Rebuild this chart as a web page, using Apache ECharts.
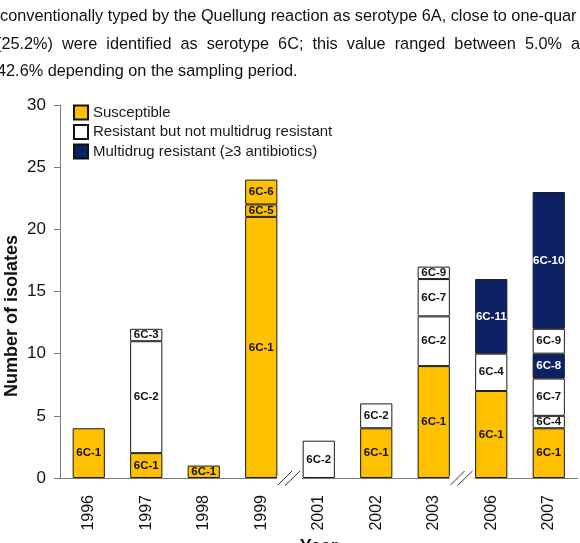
<!DOCTYPE html>
<html>
<head>
<meta charset="utf-8">
<script src="https://cdn.jsdelivr.net/npm/echarts@6.0.0/dist/echarts.min.js"></script>
<style>
  html, body { margin: 0; padding: 0; background: #fff; }
  #chart { width: 580px; height: 543px; }
</style>
</head>
<body>
<div id="chart"></div>
<script>
// paragraph text above the figure (cut off at the page edges in the original)
const textLines = [
  'conventionally typed by the Quellung reaction as serotype 6A, close to one-quar',
  '(25.2%) were identified as serotype 6C; this value ranged between 5.0% a',
  '42.6% depending on the sampling period.'
]

const years = ['1996', '1997', '1998', '1999', '2001', '2002', '2003', '2006', '2007']

// segments per year, bottom to top: [clone, group, isolates]
// S = susceptible, R = resistant but not MDR, M = multidrug resistant
const seg1996 = [['6C-1', 'S', 4]]
const seg1997 = [['6C-1', 'S', 2], ['6C-2', 'R', 9], ['6C-3', 'R', 1]]
const seg1998 = [['6C-1', 'S', 1]]
const seg1999 = [['6C-1', 'S', 21], ['6C-5', 'S', 1], ['6C-6', 'S', 2]]
const seg2001 = [['6C-2', 'R', 3]]
const seg2002 = [['6C-1', 'S', 4], ['6C-2', 'R', 2]]
const seg2003 = [['6C-1', 'S', 9], ['6C-2', 'R', 4], ['6C-7', 'R', 3], ['6C-9', 'R', 1]]
const seg2006 = [['6C-1', 'S', 7], ['6C-4', 'R', 3], ['6C-11', 'M', 6]]
const seg2007 = [['6C-1', 'S', 4], ['6C-4', 'R', 1], ['6C-7', 'R', 3], ['6C-8', 'M', 2], ['6C-9', 'R', 2], ['6C-10', 'M', 11]]
const segmentsByYear = [seg1996, seg1997, seg1998, seg1999, seg2001, seg2002, seg2003, seg2006, seg2007]

const groupKeys = ['S', 'R', 'M']
const groupNames = ['Susceptible', 'Resistant but not multidrug resistant', 'Multidrug resistant (≥3 antibiotics)']

// gaps in the time line come after these category indexes
const breakAfter = [3, 6]

const yTicks = [0, 5, 10, 15, 20, 25, 30]

const FONT = '"Liberation Sans", Arial, sans-serif'
const colors = { S: '#FFC000', R: '#FFFFFF', M: '#0B2163' }
const labelColors = { S: '#111', R: '#111', M: '#fff' }
const axisColor = '#7a7a7a'

let chart = echarts.init(document.getElementById('chart'))

// bar layers: layer i holds the i-th segment of each year
let maxLayers = Math.max(...segmentsByYear.map(s => s.length))
let series = []
for (let i = 0; i < maxLayers; i++) {
  series.push({
    name: 'layer' + i,
    type: 'bar',
    stack: 'total',
    barWidth: '56%',
    itemStyle: { borderColor: '#1a1a1a', borderWidth: 1 },
    label: {
      show: true,
      position: 'inside',
      fontFamily: FONT,
      fontSize: 11.5,
      fontWeight: 'bold',
      formatter: p => p.data.clone
    },
    data: segmentsByYear.map(segs => {
      let s = segs[i]
      if (!s) return '-'
      return {
        value: s[2],
        clone: s[0],
        itemStyle: { color: colors[s[1]] },
        label: { color: labelColors[s[1]] }
      }
    })
  })
}
// empty series only to feed the legend
groupKeys.forEach((k, i) => {
  series.push({
    name: groupNames[i],
    type: 'bar',
    stack: 'total',
    data: [],
    itemStyle: { color: colors[k], borderColor: '#111', borderWidth: 1.5 }
  })
})

chart.setOption({
  animation: false,
  textStyle: { fontFamily: FONT },
  grid: { left: 60, right: 2.5, top: 105, bottom: 65, outerBoundsMode: 'none' },
  legend: {
    data: groupNames,
    orient: 'vertical',
    left: 73,
    top: 104.5,
    icon: 'rect',
    itemWidth: 14,
    itemHeight: 14,
    itemGap: 3.5,
    padding: 0,
    textStyle: { fontFamily: FONT, fontSize: 15, color: '#1a1a1a' }
  },
  xAxis: {
    type: 'category',
    data: years,
    name: 'Year',
    nameLocation: 'middle',
    nameGap: 60,
    nameTextStyle: { fontFamily: FONT, fontSize: 18, fontWeight: 'bold', color: '#111' },
    axisLine: { lineStyle: { color: axisColor, width: 1 } },
    axisTick: {
      length: 5,
      lineStyle: { color: axisColor },
      interval: (idx) => !breakAfter.includes(idx - 1)
    },
    axisLabel: { rotate: 90, fontSize: 16, color: '#111', margin: 17, fontFamily: FONT }
  },
  yAxis: {
    type: 'value',
    min: yTicks[0],
    max: yTicks[yTicks.length - 1],
    interval: yTicks[1] - yTicks[0],
    axisLine: { show: true, lineStyle: { color: axisColor, width: 1 } },
    axisTick: { show: true, length: 6, lineStyle: { color: axisColor } },
    splitLine: { show: false },
    axisLabel: { fontSize: 17, color: '#111', margin: 14, fontFamily: FONT }
  },
  series: series
})

// paragraph text + axis breaks + y title as graphics
let graphics = []

let ctx = document.createElement('canvas').getContext('2d')
let textFont = '16.3px "Liberation Sans"'
ctx.font = textFont
let lineY = [17, 45, 72]
graphics.push({
  type: 'text', x: 0, y: lineY[0],
  style: { text: textLines[0], font: textFont, fill: '#111', textVerticalAlign: 'middle' }
})
// second line is justified in the original
let words = textLines[1].split(' ')
let widths = words.map(w => ctx.measureText(w).width)
let startX = -4, lastX = 571
let used = widths.slice(0, -1).reduce((a, b) => a + b, 0)
let gap = (lastX - startX - used) / (words.length - 1)
let cx = startX
words.forEach((w, i) => {
  graphics.push({
    type: 'text', x: cx, y: lineY[1],
    style: { text: w, font: textFont, fill: '#111', textVerticalAlign: 'middle' }
  })
  cx += widths[i] + gap
})
graphics.push({
  type: 'text', x: -3, y: lineY[2],
  style: { text: textLines[2], font: textFont, fill: '#111', textVerticalAlign: 'middle' }
})

// y axis title, sitting a bit below the plot middle like the original
graphics.push({
  type: 'text', x: 12, y: 316, rotation: Math.PI / 2,
  style: {
    text: 'Number of isolates', font: 'bold 18px "Liberation Sans"', fill: '#111',
    textAlign: 'center', textVerticalAlign: 'middle'
  }
})

let y0 = chart.convertToPixel({ yAxisIndex: 0 }, 0)
breakAfter.forEach(idx => {
  let a = chart.convertToPixel({ xAxisIndex: 0 }, years[idx])
  let b = chart.convertToPixel({ xAxisIndex: 0 }, years[idx + 1])
  let bx = (a + b) / 2
  graphics.push({
    type: 'rect', z: 100,
    shape: { x: bx - 13, y: y0 - 2, width: 25, height: 10 },
    style: { fill: '#fff' }
  })
  graphics.push({
    type: 'line', z: 101,
    shape: { x1: bx - 12, y1: y0 + 7, x2: bx + 2, y2: y0 - 7 },
    style: { stroke: '#333', lineWidth: 1 }
  })
  graphics.push({
    type: 'line', z: 101,
    shape: { x1: bx - 5, y1: y0 + 7.5, x2: bx + 10, y2: y0 - 7 },
    style: { stroke: '#333', lineWidth: 1 }
  })
})

chart.setOption({ graphic: graphics })
</script>
</body>
</html>
